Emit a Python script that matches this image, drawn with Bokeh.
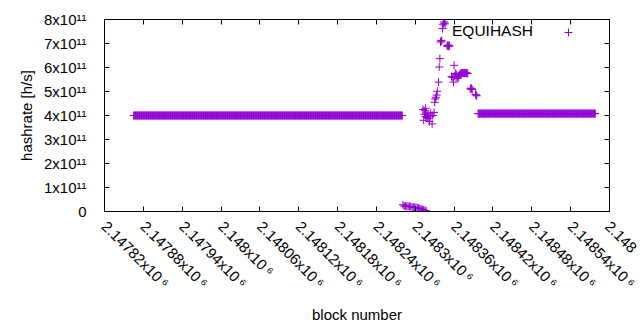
import numpy as np
from bokeh.plotting import figure
from bokeh.models import (Range1d, FixedTicker, LinearAxis, Legend, LegendItem,
                          ColumnDataSource, CustomJSTickFormatter)
from bokeh.embed import file_html
from bokeh.resources import INLINE

# ---- data ----
# flat stretches: first block, last block, hashrate
flat_first = [2147865, 2148397]
flat_last = [2148280, 2148578]
flat_hash = [4.00e11, 4.08e11]

# low stretch right after the first flat part
low_blocks = [2148281, 2148283, 2148285, 2148287, 2148289, 2148291, 2148293,
              2148295, 2148297, 2148299, 2148301, 2148303, 2148305, 2148307,
              2148309, 2148311, 2148313, 2148315, 2148317]
low_hash = [0.28e11, 0.23e11, 0.22e11, 0.22e11, 0.21e11, 0.21e11, 0.20e11,
            0.19e11, 0.18e11, 0.17e11, 0.16e11, 0.15e11, 0.14e11, 0.12e11,
            0.10e11, 0.08e11, 0.06e11, 0.04e11, 0.02e11]

# spike region
spike_blocks = [2148312, 2148313, 2148314, 2148315, 2148316, 2148316, 2148317,
                2148318, 2148319, 2148320, 2148321, 2148322, 2148323, 2148324,
                2148326, 2148327, 2148329, 2148330, 2148331, 2148332, 2148333,
                2148334, 2148336, 2148337, 2148338, 2148339, 2148340, 2148341,
                2148342, 2148343, 2148344, 2148345, 2148346, 2148349, 2148350,
                2148351, 2148352, 2148353, 2148356, 2148358, 2148359, 2148360,
                2148361, 2148362, 2148363, 2148364, 2148365, 2148366, 2148367,
                2148368, 2148369, 2148370, 2148371, 2148372, 2148373, 2148374,
                2148375, 2148376, 2148377, 2148378, 2148379, 2148380, 2148381,
                2148385, 2148386, 2148387, 2148388, 2148393, 2148394, 2148395]
spike_hash = [4.25e11, 3.80e11, 4.05e11, 4.20e11, 4.30e11, 3.95e11, 4.10e11,
              3.92e11, 4.00e11, 3.88e11, 4.02e11, 3.75e11, 3.95e11, 4.10e11,
              3.65e11, 4.00e11, 4.13e11, 4.55e11, 4.69e11, 4.76e11, 4.85e11,
              5.01e11, 5.39e11, 6.02e11, 6.37e11, 7.06e11, 7.13e11, 7.10e11,
              7.62e11, 7.78e11, 7.85e11, 7.90e11, 7.82e11, 6.90e11, 6.92e11,
              6.88e11, 6.93e11, 6.90e11, 5.62e11, 5.58e11, 5.39e11, 6.09e11,
              5.65e11, 5.75e11, 5.58e11, 5.70e11, 5.60e11, 5.55e11, 5.62e11,
              5.68e11, 5.72e11, 5.75e11, 5.76e11, 5.78e11, 5.77e11, 5.76e11,
              5.78e11, 5.77e11, 5.76e11, 5.78e11, 5.77e11, 5.76e11, 5.75e11,
              5.10e11, 5.14e11, 5.12e11, 5.08e11, 4.88e11, 4.85e11, 4.82e11]

series_name = "EQUIHASH"

x_ticks = [2147820, 2147880, 2147940, 2148000, 2148060, 2148120, 2148180,
           2148240, 2148300, 2148360, 2148420, 2148480, 2148540, 2148600]
x_tick_labels = ["2.14782x10\u2009\u2076", "2.14788x10\u2009\u2076",
                 "2.14794x10\u2009\u2076", "2.148x10\u2009\u2076",
                 "2.14806x10\u2009\u2076", "2.14812x10\u2009\u2076",
                 "2.14818x10\u2009\u2076", "2.14824x10\u2009\u2076",
                 "2.1483x10\u2009\u2076", "2.14836x10\u2009\u2076",
                 "2.14842x10\u2009\u2076", "2.14848x10\u2009\u2076",
                 "2.14854x10\u2009\u2076", "2.1486x10\u2009\u2076"]
y_ticks = [0, 1e11, 2e11, 3e11, 4e11, 5e11, 6e11, 7e11, 8e11]
y_tick_labels = ["0", "1x10\u00b9\u00b9", "2x10\u00b9\u00b9", "3x10\u00b9\u00b9",
                 "4x10\u00b9\u00b9", "5x10\u00b9\u00b9", "6x10\u00b9\u00b9",
                 "7x10\u00b9\u00b9", "8x10\u00b9\u00b9"]

# ---- build table ----
xs, ys = [], []
for f, l, h in zip(flat_first, flat_last, flat_hash):
    b = list(range(f, l + 1))
    xs += b
    ys += [h] * len(b)
xs += low_blocks
ys += low_hash
xs += spike_blocks
ys += spike_hash
src = ColumnDataSource(data=dict(x=xs, y=ys))

FONT = "Liberation Sans"
FS = "15px"
PURPLE = "#9400D3"

p = figure(width=640, height=330, output_backend="svg", toolbar_location=None,
           x_range=Range1d(2147820, 2148600), y_range=Range1d(0, 8e11),
           min_border_left=104, min_border_right=31, min_border_top=19,
           min_border_bottom=119)
p.xgrid.visible = False
p.ygrid.visible = False
p.outline_line_color = "black"
p.outline_line_width = 1
p.background_fill_color = "white"
p.border_fill_color = "white"

r = p.scatter(x="x", y="y", source=src, marker="cross", size=8,
              line_color=PURPLE, line_width=1)

# bottom axis; the last label runs off the page edge in the reference,
# so only its visible part is drawn (Bokeh would otherwise pull it inside)
xa = p.xaxis[0]
xa.ticker = FixedTicker(ticks=x_ticks)
overrides = {t: s for t, s in zip(x_ticks, x_tick_labels)}
overrides[x_ticks[-1]] = x_tick_labels[-1][:5]
xa.major_label_overrides = overrides
xa.major_label_orientation = -np.pi / 4
xa.major_tick_in = 5
xa.major_tick_out = 0
xa.minor_tick_line_color = None
xa.major_label_standoff = 12
xa.major_label_text_font = FONT
xa.major_label_text_font_size = FS
xa.major_label_text_color = "black"
xa.axis_label = "block number"
xa.axis_label_text_font = FONT
xa.axis_label_text_font_size = FS
xa.axis_label_text_font_style = "normal"
xa.axis_label_text_color = "black"
xa.axis_label_standoff = 6

# left axis
ya = p.yaxis[0]
ya.ticker = FixedTicker(ticks=y_ticks)
ya.major_label_overrides = {t: s for t, s in zip(y_ticks, y_tick_labels)}
ya.major_tick_in = 5
ya.major_tick_out = 0
ya.minor_tick_line_color = None
ya.major_label_standoff = 18
ya.major_label_text_font = FONT
ya.major_label_text_font_size = FS
ya.major_label_text_color = "black"
ya.axis_label = "hashrate [h/s]"
ya.axis_label_text_font = FONT
ya.axis_label_text_font_size = FS
ya.axis_label_text_font_style = "normal"
ya.axis_label_text_color = "black"
ya.axis_label_standoff = 6

# mirrored ticks (top, right), no labels
top = LinearAxis(ticker=FixedTicker(ticks=x_ticks), major_tick_in=5,
                 major_tick_out=0, minor_tick_line_color=None,
                 formatter=CustomJSTickFormatter(code="return ''"),
                 major_label_standoff=0, axis_line_color="black")
p.add_layout(top, "above")
right = LinearAxis(ticker=FixedTicker(ticks=y_ticks), major_tick_in=5,
                   major_tick_out=0, minor_tick_line_color=None,
                   formatter=CustomJSTickFormatter(code="return ''"),
                   major_label_standoff=0, axis_line_color="black")
p.add_layout(right, "right")

# legend: text first, then the sample (gnuplot style)
leg_text = Legend(items=[LegendItem(label=series_name, renderers=[r])],
                  location=(348, 171), glyph_width=0, glyph_height=16,
                  label_standoff=0, label_height=16, padding=0, margin=0,
                  spacing=0, label_text_font=FONT, label_text_font_size="15.5px",
                  label_text_color="black", background_fill_alpha=0,
                  border_line_alpha=0)
leg_key = Legend(items=[LegendItem(label=" ", renderers=[r])],
                 location=(454, 169), glyph_width=20, glyph_height=20,
                 label_standoff=0, label_width=0, padding=0, margin=0,
                 spacing=0, label_text_font=FONT, label_text_font_size="2px",
                 background_fill_alpha=0, border_line_alpha=0)
p.add_layout(leg_text, "center")
p.add_layout(leg_key, "center")

open("out.html", "w").write(file_html(p, INLINE))
